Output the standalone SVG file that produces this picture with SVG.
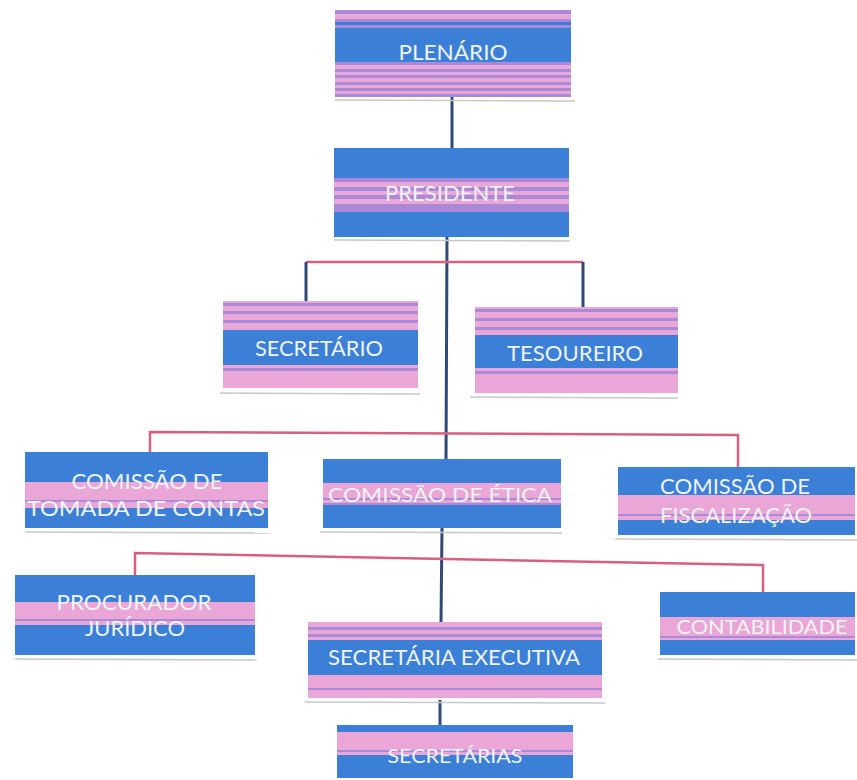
<svg xmlns="http://www.w3.org/2000/svg" width="857" height="780" viewBox="0 0 857 780">
<style>
.b{fill:#3b7fd6}
.p{fill:#e9a6d6}
.v{fill:#a98ad8}
.sh{fill:none;stroke:#c8c8c8;stroke-width:1.5}
.t{font-family:Lato,"Open Sans",sans-serif;fill:#eef4f2;text-anchor:middle}
.cp{fill:none;stroke:#d8607e;stroke-width:2.5}
.cb{fill:none;stroke:#2f4a78;stroke-width:3}
</style>
<rect width="857" height="780" fill="#ffffff"/>
<g id="connectors">
<line class="cb" x1="452" y1="97" x2="452" y2="148"/>
<line class="cb" x1="447" y1="237" x2="446" y2="459"/>
<polyline class="cp" points="306,262 583,262"/>
<line class="cb" x1="306" y1="262" x2="306" y2="301"/>
<line class="cb" x1="583" y1="262" x2="583" y2="307"/>
<polyline class="cp" points="150,452 150,432 738,435 738,467"/>
<line class="cb" x1="442" y1="528" x2="441" y2="622"/>
<polyline class="cp" points="135,575 135,553 763,565 763,592"/>
<line class="cb" x1="440" y1="700" x2="440" y2="725"/>
</g>
<g id="plenario">
<rect class="v" x="335" y="10" width="236" height="87"/>
<rect class="p" x="335" y="14" width="236" height="5"/>
<rect class="b" x="335" y="22" width="236" height="3"/>
<rect class="b" x="335" y="28" width="236" height="34"/>
<rect class="p" x="335" y="65" width="236" height="4"/>
<rect class="p" x="335" y="72" width="236" height="3"/>
<rect class="p" x="335" y="78" width="236" height="4"/>
<rect class="p" x="335" y="85" width="236" height="3"/>
<rect class="p" x="335" y="91" width="236" height="3"/>
<line class="sh" x1="335" y1="100" x2="575" y2="101"/>
<text class="t" x="453" y="60" font-size="22" textLength="109" lengthAdjust="spacingAndGlyphs">PLENÁRIO</text>
</g>
<g id="presidente">
<rect class="b" x="334" y="148" width="235" height="89"/>
<rect class="v" x="334" y="178" width="235" height="34"/>
<rect class="p" x="334" y="182" width="235" height="5"/>
<rect class="p" x="334" y="191" width="235" height="4"/>
<rect class="p" x="334" y="199" width="235" height="5"/>
<line class="sh" x1="334" y1="240" x2="570" y2="241"/>
<text class="t" x="450" y="201" font-size="22" textLength="130" lengthAdjust="spacingAndGlyphs">PRESIDENTE</text>
</g>
<g id="secretario">
<rect class="p" x="223" y="301" width="195" height="87"/>
<rect class="v" x="223" y="303" width="195" height="3"/>
<rect class="v" x="223" y="311" width="195" height="3"/>
<rect class="v" x="223" y="320" width="195" height="3"/>
<rect class="b" x="223" y="330" width="195" height="35"/>
<rect class="v" x="223" y="368" width="195" height="3"/>
<line class="sh" x1="220" y1="393" x2="420" y2="394"/>
<text class="t" x="319" y="356" font-size="22" textLength="128" lengthAdjust="spacingAndGlyphs">SECRETÁRIO</text>
</g>
<g id="tesoureiro">
<rect class="p" x="475" y="307" width="203" height="86"/>
<rect class="v" x="475" y="309" width="203" height="3"/>
<rect class="v" x="475" y="318" width="203" height="3"/>
<rect class="v" x="475" y="327" width="203" height="3"/>
<rect class="b" x="475" y="335" width="203" height="33"/>
<rect class="v" x="475" y="371" width="203" height="3"/>
<line class="sh" x1="470" y1="397" x2="678" y2="398"/>
<text class="t" x="575" y="361" font-size="22" textLength="136" lengthAdjust="spacingAndGlyphs">TESOUREIRO</text>
</g>
<g id="tomada-de-contas">
<rect class="b" x="25" y="452" width="243" height="76"/>
<rect class="p" x="25" y="482" width="243" height="26"/>
<rect class="v" x="25" y="500" width="243" height="2"/>
<line class="sh" x1="25" y1="532" x2="270" y2="533"/>
<text class="t" x="147" y="489" font-size="22" textLength="151" lengthAdjust="spacingAndGlyphs">COMISSÃO DE</text>
<text class="t" x="146" y="516" font-size="22" textLength="238" lengthAdjust="spacingAndGlyphs">TOMADA DE CONTAS</text>
</g>
<g id="etica">
<rect class="b" x="323" y="459" width="238" height="69"/>
<rect class="p" x="323" y="483" width="238" height="22"/>
<rect class="v" x="323" y="498" width="238" height="2"/>
<rect class="v" x="323" y="503" width="238" height="2"/>
<line class="sh" x1="320" y1="532" x2="562" y2="533"/>
<text class="t" x="440" y="502" font-size="20" textLength="224" lengthAdjust="spacingAndGlyphs">COMISSÃO DE ÉTICA</text>
</g>
<g id="fiscalizacao">
<rect class="b" x="618" y="467" width="237" height="68"/>
<rect class="p" x="618" y="495" width="237" height="25"/>
<rect class="v" x="618" y="514" width="237" height="2"/>
<line class="sh" x1="615" y1="539" x2="857" y2="540"/>
<text class="t" x="735" y="494" font-size="22" textLength="150" lengthAdjust="spacingAndGlyphs">COMISSÃO DE</text>
<text class="t" x="736" y="523" font-size="22" textLength="152" lengthAdjust="spacingAndGlyphs">FISCALIZAÇÃO</text>
</g>
<g id="procurador">
<rect class="b" x="15" y="575" width="240" height="80"/>
<rect class="p" x="15" y="602" width="240" height="23"/>
<rect class="v" x="15" y="619" width="240" height="2"/>
<line class="sh" x1="15" y1="659" x2="257" y2="660"/>
<text class="t" x="134" y="610" font-size="22" textLength="155" lengthAdjust="spacingAndGlyphs">PROCURADOR</text>
<text class="t" x="135" y="636" font-size="22" textLength="100" lengthAdjust="spacingAndGlyphs">JURÍDICO</text>
</g>
<g id="contabilidade">
<rect class="b" x="660" y="592" width="195" height="63"/>
<rect class="p" x="660" y="617" width="195" height="23"/>
<rect class="v" x="660" y="636" width="195" height="2"/>
<line class="sh" x1="658" y1="659" x2="857" y2="660"/>
<text class="t" x="762" y="634" font-size="20" textLength="171" lengthAdjust="spacingAndGlyphs">CONTABILIDADE</text>
</g>
<g id="secretaria-executiva">
<rect class="p" x="308" y="622" width="294" height="76"/>
<rect class="v" x="308" y="627" width="294" height="3"/>
<rect class="v" x="308" y="634" width="294" height="3"/>
<rect class="b" x="308" y="640" width="294" height="35"/>
<rect class="v" x="308" y="688" width="294" height="2"/>
<line class="sh" x1="305" y1="702" x2="605" y2="703"/>
<text class="t" x="454" y="665" font-size="22" textLength="252" lengthAdjust="spacingAndGlyphs">SECRETÁRIA  EXECUTIVA</text>
</g>
<g id="secretarias">
<rect class="b" x="337" y="725" width="236" height="53"/>
<rect class="p" x="337" y="732" width="236" height="23"/>
<rect class="v" x="337" y="750" width="236" height="2"/>
<text class="t" x="455" y="763" font-size="20" textLength="135" lengthAdjust="spacingAndGlyphs">SECRETÁRIAS</text>
</g>
</svg>
